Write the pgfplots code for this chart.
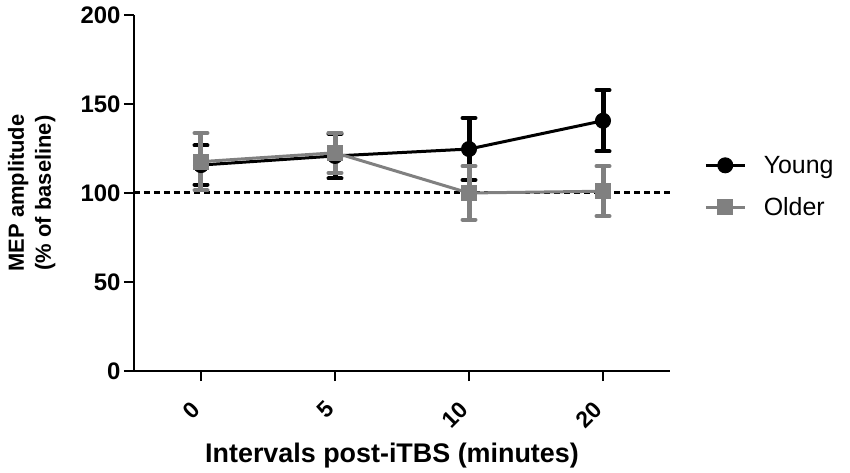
\documentclass[border=0pt]{standalone}
\usepackage{pgfplots}
\pgfplotsset{compat=1.18}
\usepackage{fontspec}
\setmainfont{Liberation Sans}
\definecolor{oldgray}{RGB}{128,128,128}
\begin{document}
\begin{tikzpicture}
\useasboundingbox (-134bp,-102bp) rectangle (716bp,371bp);
\begin{axis}[
  at={(0,0)}, anchor=south west,
  width=536bp, height=356bp, scale only axis,
  xmin=-0.5, xmax=3.5, ymin=0, ymax=200,
  axis x line*=bottom, axis y line*=left,
  axis line style={-, line width=2.8bp, black},
  xtick={0,1,2,3}, xticklabels={0,5,10,20},
  ytick={0,50,100,150,200},
  tick align=outside, major tick length=10bp,
  tick style={line width=2.8bp, black},
  /pgf/number format/assume math mode=true,
  xticklabel style={rotate=45, anchor=east, xshift=-17bp, yshift=-14bp, font=\fontsize{23}{25}\selectfont\bfseries},
  yticklabel style={font=\fontsize{24}{26}\selectfont\bfseries},
  xlabel={Intervals post-iTBS (minutes)},
  xlabel style={at={(axis description cs:0.5,0)}, anchor=base, yshift=-91bp, xshift=-10bp,
    font=\fontsize{27}{30}\selectfont\bfseries},
  ylabel={MEP amplitude\\(\% of baseline)},
  ylabel style={at={(axis description cs:-0.14,0.5)}, anchor=south, rotate=0, align=center,
    font=\fontsize{22}{27}\selectfont\bfseries},
  legend style={draw=none, fill=none, at={(1.058,0.518)}, anchor=west,
    font=\fontsize{25}{28}\selectfont, row sep=19bp},
  legend cell align=left,
  legend image code/.code={\path[draw=none,fill=none] (0bp,0bp) -- (56bp,0bp);\draw[mark repeat=2,mark phase=2] plot coordinates {(0bp,0bp) (19.5bp,0bp) (39bp,0bp)};},
  clip=false,
]
\addplot[black, line width=3bp, dash pattern=on 6bp off 4bp, forget plot] coordinates {(-0.5,100) (3.5,100)};
\addplot[black, line width=3bp, mark=*, mark size=7.5bp, mark options={solid, line width=1bp},
  error bars/.cd, y dir=both, y explicit,
  error bar style={line width=5bp},
  error mark options={rotate=90, line width=4bp, mark size=6.5bp, line cap=round}]
  coordinates {(0,115.7) +- (0,11) (1,120.8) +- (0,12.6) (2,124.7) +- (0,17.4) (3,140.6) +- (0,17.2)};
\addlegendentry{Young}
\addplot[oldgray, line width=3bp, mark=square*, mark size=7.5bp, mark options={solid, line width=1bp, fill=oldgray},
  error bars/.cd, y dir=both, y explicit,
  error bar style={line width=5bp},
  error mark options={rotate=90, line width=4bp, mark size=6.5bp, line cap=round}]
  coordinates {(0,117.6) +- (0,16.1) (1,122.6) +- (0,11.3) (2,100.0) +- (0,15) (3,101.0) +- (0,14)};
\addlegendentry{Older}
\end{axis}
\end{tikzpicture}
\end{document}
